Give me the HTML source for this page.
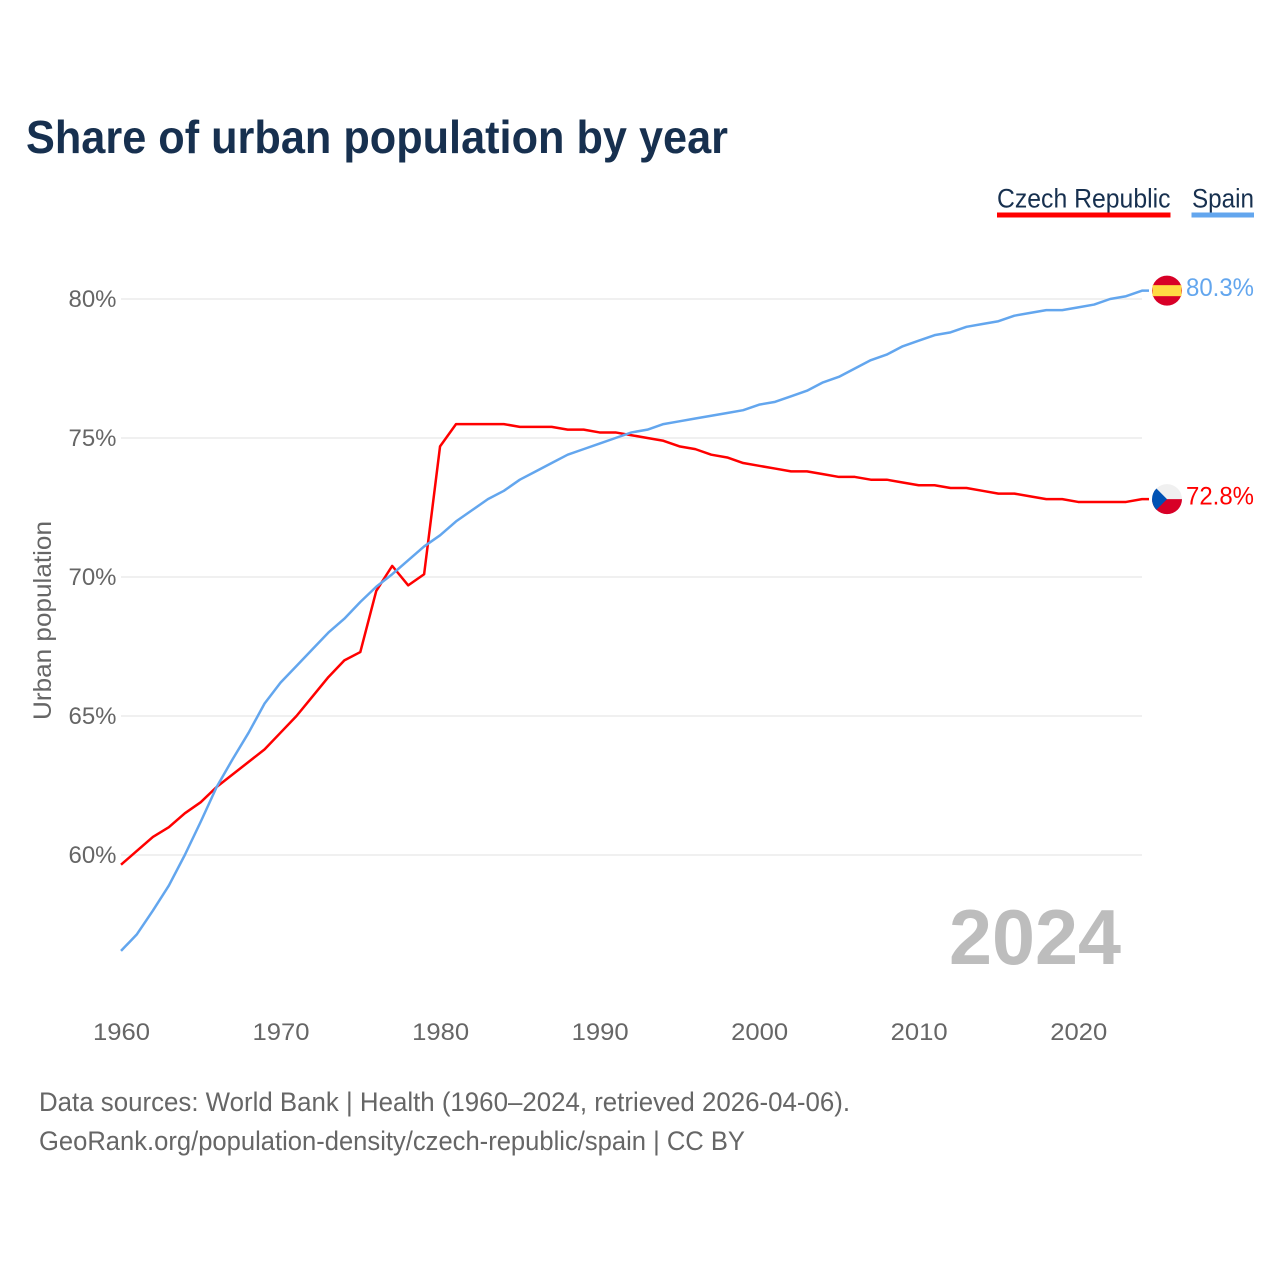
<!DOCTYPE html>
<html lang="en">
<head>
<meta charset="utf-8">
<title>Share of urban population by year</title>
<style>
html,body{margin:0;padding:0;background:#fff;width:1280px;height:1280px;overflow:hidden}
svg{display:block}
text{font-family:"Liberation Sans",sans-serif}
</style>
</head>
<body>
<svg id="chart" width="1280" height="1280" viewBox="0 0 1280 1280" xmlns="http://www.w3.org/2000/svg">
  <text x="26" y="153" font-size="46" font-weight="700" fill="#17304f" textLength="702" lengthAdjust="spacingAndGlyphs">Share of urban population by year</text>

  <text x="997" y="207.500" font-size="27" fill="#17304f" textLength="173.500" lengthAdjust="spacingAndGlyphs">Czech Republic</text>
  <rect x="997" y="212.500" width="173.500" height="5" fill="#ff0000"/>
  <text x="1192" y="207.500" font-size="27" fill="#17304f" textLength="62" lengthAdjust="spacingAndGlyphs">Spain</text>
  <rect x="1191.500" y="212.500" width="62.500" height="5" fill="#63a6ee"/>

  <g id="grid"></g>
  <g id="y-ticks"></g>
  <g id="x-ticks"></g>

  <text transform="translate(51 620.5) rotate(-90)" text-anchor="middle" font-size="25" fill="#666666" textLength="199" lengthAdjust="spacingAndGlyphs">Urban population</text>

  <text x="949" y="964" font-size="78" font-weight="700" fill="#bdbdbd" textLength="172" lengthAdjust="spacingAndGlyphs">2024</text>

  <g id="series"></g>
  <g id="endpoints"></g>

  <text x="39" y="1111" font-size="26.500" fill="#666666" textLength="811" lengthAdjust="spacingAndGlyphs">Data sources: World Bank | Health (1960–2024, retrieved 2026-04-06).</text>
  <text x="39" y="1150" font-size="26.500" fill="#666666" textLength="706" lengthAdjust="spacingAndGlyphs">GeoRank.org/population-density/czech-republic/spain | CC BY</text>
</svg>

<script>
const years = [1960,1961,1962,1963,1964,1965,1966,1967,1968,1969,1970,1971,1972,1973,1974,1975,1976,1977,1978,1979,1980,1981,1982,1983,1984,1985,1986,1987,1988,1989,1990,1991,1992,1993,1994,1995,1996,1997,1998,1999,2000,2001,2002,2003,2004,2005,2006,2007,2008,2009,2010,2011,2012,2013,2014,2015,2016,2017,2018,2019,2020,2021,2022,2023,2024];
const czechValues = [59.65,60.15,60.65,61.0,61.5,61.9,62.45,62.9,63.35,63.8,64.4,65.0,65.7,66.4,67.0,67.3,69.5,70.4,69.7,70.1,74.7,75.5,75.5,75.5,75.5,75.4,75.4,75.4,75.3,75.3,75.2,75.2,75.1,75.0,74.9,74.7,74.6,74.4,74.3,74.1,74.0,73.9,73.8,73.8,73.7,73.6,73.6,73.5,73.5,73.4,73.3,73.3,73.2,73.2,73.1,73.0,73.0,72.9,72.8,72.8,72.7,72.7,72.7,72.7,72.8];
const spainValues = [56.55,57.15,58.0,58.9,60.0,61.2,62.45,63.45,64.4,65.45,66.2,66.8,67.4,68.0,68.5,69.1,69.65,70.1,70.6,71.1,71.5,72.0,72.4,72.8,73.1,73.5,73.8,74.1,74.4,74.6,74.8,75.0,75.2,75.3,75.5,75.6,75.7,75.8,75.9,76.0,76.2,76.3,76.5,76.7,77.0,77.2,77.5,77.8,78.0,78.3,78.5,78.7,78.8,79.0,79.1,79.2,79.4,79.5,79.6,79.6,79.7,79.8,80.0,80.1,80.3];
const yTickValues = [60,65,70,75,80];
const xTickValues = [1960,1970,1980,1990,2000,2010,2020];

const SVG_NS = 'http://www.w3.org/2000/svg';
const xScale = function (year) { return 121 + (year - 1960) * (1142 - 121) / 64; };
const yScale = function (pct) { return 299 + (80 - pct) * 27.8; };

function make(tag, parent, attrs, content) {
  const el = document.createElementNS(SVG_NS, tag);
  Object.keys(attrs).forEach(function (k) { el.setAttribute(k, attrs[k]); });
  if (content !== undefined) el.textContent = content;
  parent.appendChild(el);
  return el;
}

const gridGroup = document.getElementById('grid');
const yTickGroup = document.getElementById('y-ticks');
const xTickGroup = document.getElementById('x-ticks');
const seriesGroup = document.getElementById('series');
const endGroup = document.getElementById('endpoints');

yTickValues.forEach(function (v) {
  const line = make('line', gridGroup, {x1: 121, x2: 1142, y1: yScale(v), y2: yScale(v), stroke: '#ececec', 'stroke-width': 1.4});
  
  
  const label = make('text', yTickGroup, {x: 116.5, y: yScale(v) + 8, 'text-anchor': 'end', 'font-size': 24, fill: '#666666', textLength: 48, lengthAdjust: 'spacingAndGlyphs'}, v + '%');
  
  
});

xTickValues.forEach(function (v) {
  const label = make('text', xTickGroup, {x: xScale(v) + 0.5, y: 1040, 'text-anchor': 'middle', 'font-size': 24, fill: '#666666', textLength: 57, lengthAdjust: 'spacingAndGlyphs'}, String(v));
  
  
});

function linePoints(values) {
  const pts = values.map(function (v, i) { return xScale(years[i]).toFixed(2) + ',' + yScale(v).toFixed(2); });
  pts.push('1149,' + yScale(values[values.length - 1]).toFixed(2));
  return pts.join(' ');
}

const czechLine = make('polyline', seriesGroup, {points: linePoints(czechValues), fill: 'none', stroke: '#ff0000', 'stroke-width': 2.5, 'stroke-linejoin': 'round'});



const spainLine = make('polyline', seriesGroup, {points: linePoints(spainValues), fill: 'none', stroke: '#63a6ee', 'stroke-width': 2.5, 'stroke-linejoin': 'round'});



const spainY = yScale(spainValues[spainValues.length - 1]);
const czechY = yScale(czechValues[czechValues.length - 1]);

const spainFlag = make('g', endGroup, {transform: 'translate(1167 ' + spainY + ')'});


make('circle', spainFlag, {cx: 0, cy: 0, r: 15, fill: '#d80027'});
make('rect', spainFlag, {x: -14.5, y: -5.5, width: 29, height: 11, fill: '#ffda44'});

const czechFlag = make('g', endGroup, {transform: 'translate(1167 ' + czechY + ')'});


make('circle', czechFlag, {cx: 0, cy: 0, r: 15, fill: '#f0f0f0'});
make('path', czechFlag, {d: 'M-15 0A15 15 0 0 0 15 0Z', fill: '#d80027'});
make('path', czechFlag, {d: 'M-10.6 -10.6A15 15 0 0 0 -10.6 10.6L0 0Z', fill: '#0052b4'});

const spainValueLabel = make('text', endGroup, {x: 1186, y: spainY + 5.5, 'font-size': 25, fill: '#63a6ee', textLength: 68, lengthAdjust: 'spacingAndGlyphs'}, spainValues[spainValues.length - 1].toFixed(1) + '%');



const czechValueLabel = make('text', endGroup, {x: 1186, y: czechY + 5.5, 'font-size': 25, fill: '#ff0000', textLength: 68, lengthAdjust: 'spacingAndGlyphs'}, czechValues[czechValues.length - 1].toFixed(1) + '%');


</script>
</body>
</html>
